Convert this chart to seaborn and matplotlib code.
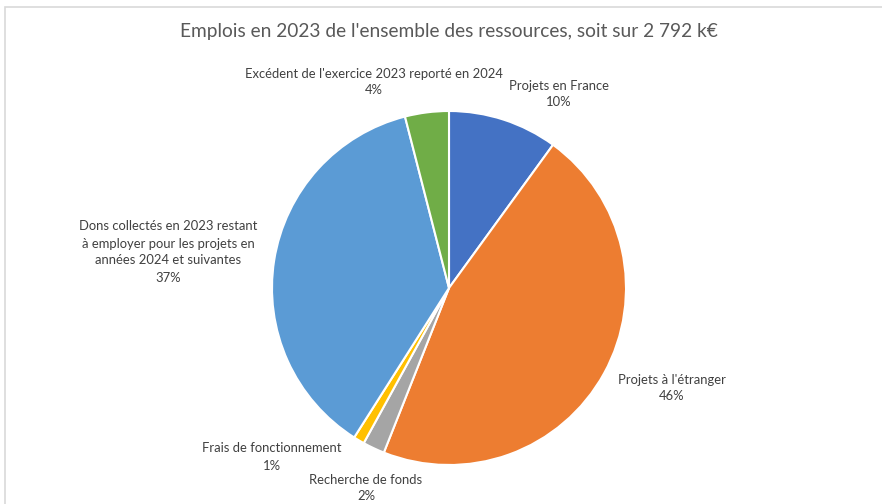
import matplotlib
matplotlib.use("Agg")
import numpy as np
import seaborn as sns
import matplotlib.pyplot as plt
from matplotlib.patches import Rectangle

sns.set_theme(style="white")
plt.rcParams['font.family'] = ['Lato', 'DejaVu Sans']

# Data (parts of the 2 792 kEUR, in %)
categories = ["Projets en France", "Projets à l'étranger", "Recherche de fonds",
              "Frais de fonctionnement",
              "Dons collectés en 2023 restant\nà employer pour les projets en\nannées 2024 et suivantes",
              "Excédent de l'exercice 2023 reporté en 2024"]
shares = [10, 46, 2, 1, 37, 4]
colors = ["#4472C4", "#ED7D31", "#A5A5A5", "#FFC000", "#5B9BD5", "#70AD47"]
title = "Emplois en 2023 de l'ensemble des ressources, soit sur 2 792 k€"

# label anchors (pixel coords from top-left of the image)
label_pos = [(559, 94), (672, 388), (366, 488), (272, 457), (168, 252), (374, 82)]

W, H = 882, 504
fig = plt.figure(figsize=(W / 100, H / 100), dpi=100)
ax = fig.add_axes([0, 0, 1, 1])
ax.set_xlim(0, W)
ax.set_ylim(0, H)
ax.set_aspect('equal')
ax.axis('off')

# faint chart-area border like the Excel export
ax.add_patch(Rectangle((5, -10), W + 20, H - 7 + 10, fill=False,
                       edgecolor="#D9D9D9", linewidth=1.2))

ax.pie(shares, colors=colors, startangle=90, counterclock=False,
       center=(449, H - 288), radius=177,
       wedgeprops=dict(edgecolor="white", linewidth=1.5))
ax.set_xlim(0, W)
ax.set_ylim(0, H)

total = sum(shares)
for name, v, (x, y) in zip(categories, shares, label_pos):
    ax.text(x, H - y, f"{name}\n{v / total * 100:.0f}%", ha="center", va="center",
            fontsize=9.4, color="#404040", linespacing=1.5)

ax.text(449, H - 31, title, ha="center", va="center", fontsize=13.8, color="#595959")

fig.savefig("out.png", dpi=100)
